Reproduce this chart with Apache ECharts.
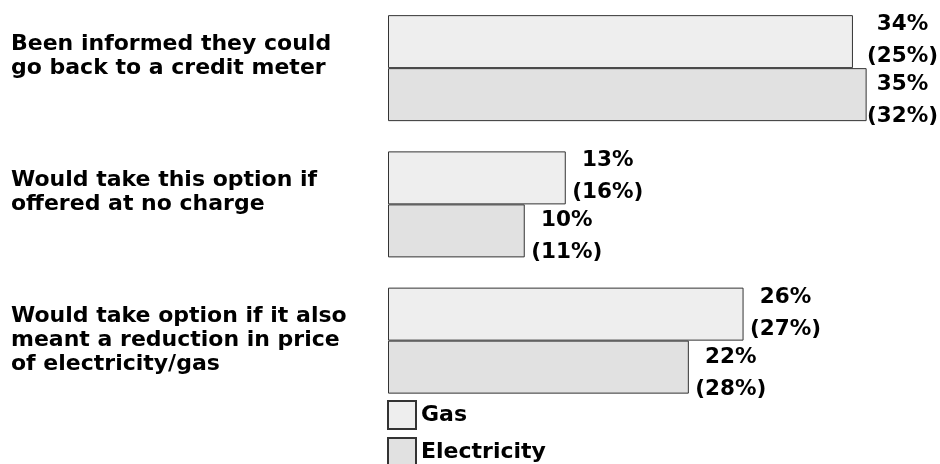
<!DOCTYPE html>
<html>
<head>
<meta charset="utf-8">
<script src="https://cdn.jsdelivr.net/npm/echarts@6/dist/echarts.min.js"></script>
<style>
  html, body { margin: 0; padding: 0; background: #ffffff; }
  #chart { width: 940px; height: 464px; }
</style>
</head>
<body>
<div id="chart"></div>
<script>
// Survey statements (top to bottom)
var categories = [
  'Been informed they could\ngo back to a credit meter',
  'Would take this option if\noffered at no charge',
  'Would take option if it also\nmeant a reduction in price\nof electricity/gas'
];

// Current percentages
var gasValues = [34, 13, 26];
var electricityValues = [35, 10, 22];

// Previous-wave percentages shown in brackets
var gasPrevious = [25, 16, 27];
var electricityPrevious = [32, 11, 28];

var seriesNames = ['Gas', 'Electricity'];

var FONT = '"DejaVu Sans", Verdana, sans-serif';
var RIGHT_LIMIT = 938;
var LABEL_DISTANCE = 42;

var chart = echarts.init(document.getElementById('chart'), null, { renderer: 'canvas' });

function labelFormatter(previous) {
  return function (p) {
    return p.value + '%\n(' + previous[p.dataIndex] + '%)';
  };
}

// keep value labels inside the canvas; when a pair would overflow,
// both labels of that statement are pulled back to the same column
function keepInside(params) {
  var r = params.labelRect;
  var cx = r.x + r.width / 2;
  var i = params.dataIndex;
  var far = Math.max(gasValues[i], electricityValues[i]);
  var farEnd = null;
  try {
    farEnd = chart.convertToPixel({ xAxisIndex: 0 }, far);
  } catch (e) {
    farEnd = null;
  }
  var reach = (farEnd != null ? farEnd + LABEL_DISTANCE : cx) + r.width / 2;
  if (reach > RIGHT_LIMIT || r.x + r.width > RIGHT_LIMIT) {
    cx = RIGHT_LIMIT - r.width / 2;
  }
  return { x: cx };
}

function makeSeries(name, values, previous, fill, yShift) {
  return {
    name: name,
    type: 'bar',
    data: values,
    barWidth: 53,
    barGap: '0%',
    itemStyle: { color: fill, borderColor: '#333333', borderWidth: 1 },
    label: {
      show: true,
      position: 'right',
      distance: LABEL_DISTANCE,
      align: 'center',
      verticalAlign: 'middle',
      offset: [0, yShift],
      color: '#000000',
      fontFamily: FONT,
      fontWeight: 'bold',
      fontSize: 21.5,
      lineHeight: 32,
      formatter: labelFormatter(previous)
    },
    labelLayout: keepInside,
    emphasis: { disabled: true },
    animation: false
  };
}

chart.setOption({
  backgroundColor: '#ffffff',
  animation: false,
  grid: { left: 388, right: 5, top: -3.75, height: 412.5, containLabel: false },
  xAxis: {
    type: 'value',
    min: 0,
    max: 40,
    show: false
  },
  yAxis: {
    type: 'category',
    data: categories,
    inverse: true,
    axisLine: { show: false },
    axisTick: { show: false },
    splitLine: { show: false },
    axisLabel: {
      align: 'left',
      verticalAlign: 'middle',
      margin: 377,
      color: '#000000',
      fontFamily: FONT,
      fontWeight: 'bold',
      fontSize: 22,
      lineHeight: 24,
      // every statement occupies a three-line block so the first lines line up
      formatter: function (v) {
        var n = v.split('\n').length;
        var s = v;
        for (var i = n; i < 3; i++) s += '\n ';
        return s;
      }
    }
  },
  legend: {
    orient: 'vertical',
    left: 387,
    top: 400,
    width: 200,
    height: 80,
    padding: 0,
    itemWidth: 28,
    itemHeight: 28,
    itemGap: 7,
    icon: 'rect',
    data: seriesNames,
    textStyle: {
      color: '#000000',
      fontFamily: FONT,
      fontWeight: 'bold',
      fontSize: 22
    },
    selectedMode: false
  },
  series: [
    makeSeries(seriesNames[0], gasValues, gasPrevious, '#eeeeee', -1),
    makeSeries(seriesNames[1], electricityValues, electricityPrevious, '#e1e1e1', 6)
  ]
});
</script>
</body>
</html>
